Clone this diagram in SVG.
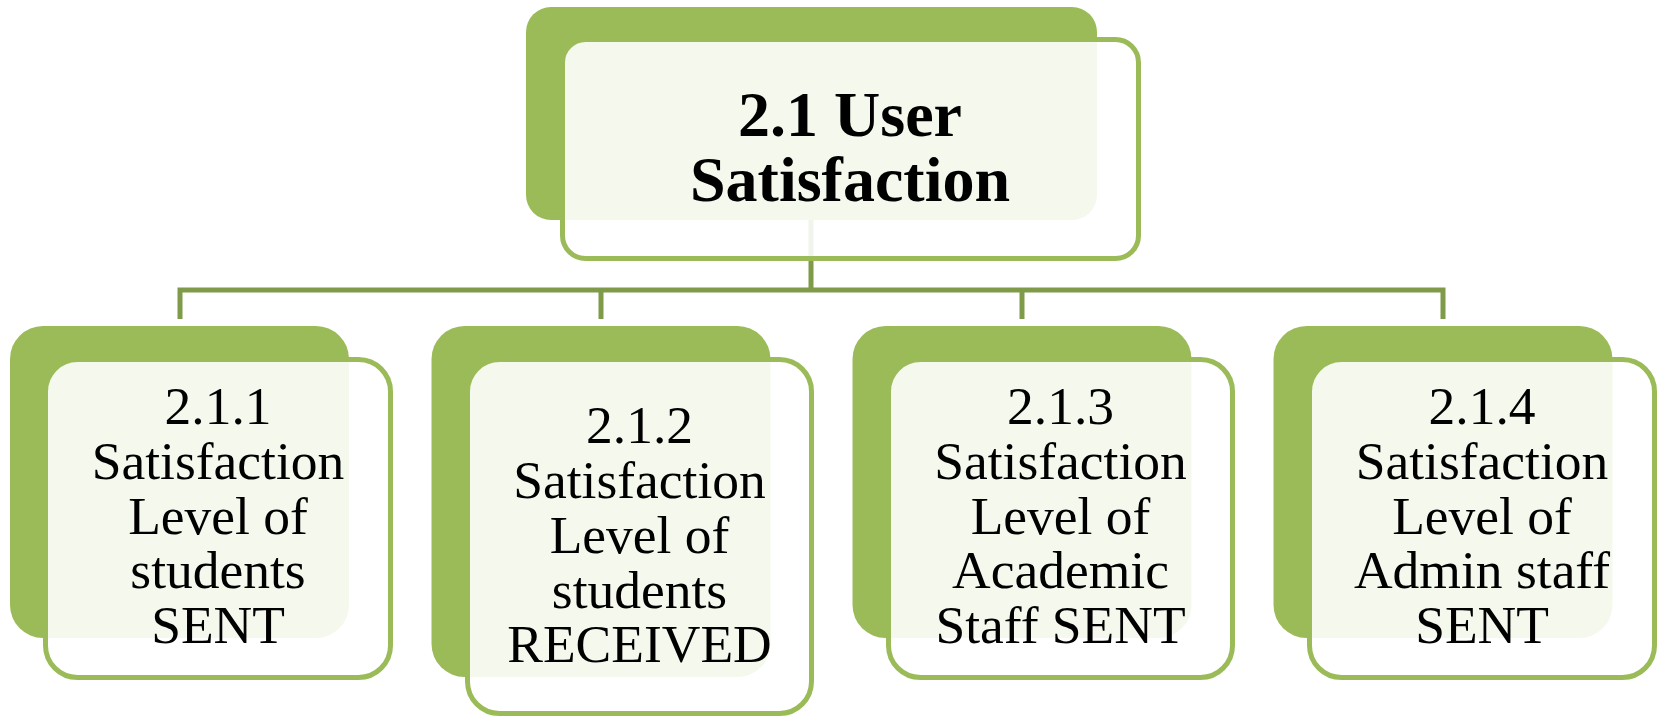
<svg xmlns="http://www.w3.org/2000/svg" width="1660" height="717" viewBox="0 0 1660 717">
<style>
.back{fill:#9BBB59;}
.front{fill:#FFFFFF;fill-opacity:0.89;stroke:#9BBB59;stroke-width:5;}
.conn{fill:none;stroke:#7F9B4A;stroke-width:5;stroke-linejoin:miter;}
.t{font-family:"Liberation Serif","Times New Roman",serif;font-size:53.5px;fill:#000;text-anchor:middle;}
.tb{font-family:"Liberation Serif","Times New Roman",serif;font-size:64px;font-weight:bold;fill:#000;text-anchor:middle;}
</style>
<rect width="1660" height="717" fill="#FFFFFF"/>
<g id="connectors">
<path class="conn" d="M811,218 V290"/>
<path class="conn" d="M180,319 V290 H1443 V319"/>
<path class="conn" d="M601,290 V319"/>
<path class="conn" d="M1022,290 V319"/>
</g>
<g id="node-2-1">
<rect class="back" x="526" y="7" width="571" height="213" rx="25"/>
<rect class="front" x="562.5" y="39.5" width="576" height="219" rx="23"/>
<text class="tb" x="850" y="136">2.1 User</text>
<text class="tb" x="850" y="201">Satisfaction</text>
</g>
<g id="node-2-1-1">
<rect class="back" x="10" y="326" width="339" height="312" rx="33"/>
<rect class="front" x="45.5" y="359.5" width="345" height="318" rx="32"/>
<text class="t" x="218" y="424">2.1.1</text>
<text class="t" x="218" y="479">Satisfaction</text>
<text class="t" x="218" y="534">Level of</text>
<text class="t" x="218" y="588">students</text>
<text class="t" x="218" y="643">SENT</text>
</g>
<g id="node-2-1-2">
<rect class="back" x="431.5" y="326" width="339" height="351" rx="33"/>
<rect class="front" x="467.5" y="359.5" width="344" height="354" rx="32"/>
<text class="t" x="639.5" y="443">2.1.2</text>
<text class="t" x="639.5" y="498">Satisfaction</text>
<text class="t" x="639.5" y="553">Level of</text>
<text class="t" x="639.5" y="608">students</text>
<text class="t" x="639.5" y="662">RECEIVED</text>
</g>
<g id="node-2-1-3">
<rect class="back" x="852.5" y="326" width="339" height="312" rx="33"/>
<rect class="front" x="888.5" y="359.5" width="344" height="318" rx="32"/>
<text class="t" x="1060.5" y="424">2.1.3</text>
<text class="t" x="1060.5" y="479">Satisfaction</text>
<text class="t" x="1060.5" y="534">Level of</text>
<text class="t" x="1060.5" y="588">Academic</text>
<text class="t" x="1060.5" y="643">Staff SENT</text>
</g>
<g id="node-2-1-4">
<rect class="back" x="1273.5" y="326" width="339" height="312" rx="33"/>
<rect class="front" x="1309.5" y="359.5" width="345" height="318" rx="32"/>
<text class="t" x="1482" y="424">2.1.4</text>
<text class="t" x="1482" y="479">Satisfaction</text>
<text class="t" x="1482" y="534">Level of</text>
<text class="t" x="1482" y="588">Admin staff</text>
<text class="t" x="1482" y="643">SENT</text>
</g>
</svg>
